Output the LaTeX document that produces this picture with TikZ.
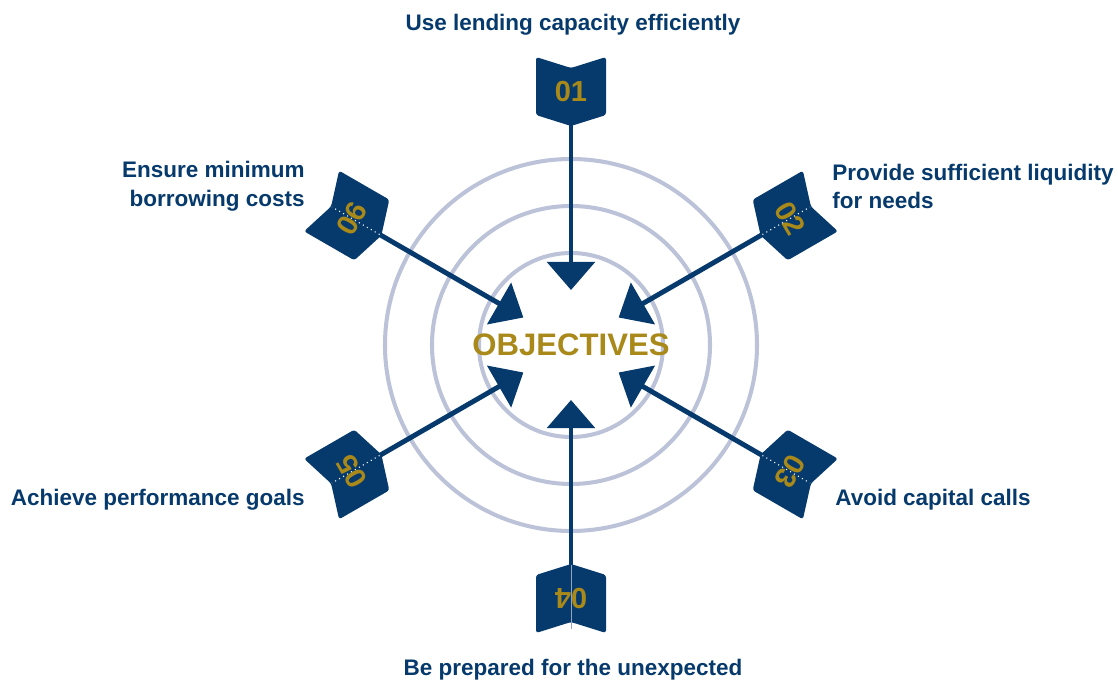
\documentclass[tikz,border=0pt]{standalone}
\usepackage{fontspec}
\setmainfont{Liberation Sans}
\usetikzlibrary{arrows.meta}
\definecolor{navy}{HTML}{073A6C}
\definecolor{gold}{HTML}{A8891A}
\definecolor{ring}{HTML}{BCC3D9}
\begin{document}
\begin{tikzpicture}[x=0.02cm,y=0.02cm,
  ringline/.style={draw=ring, line width=2.3pt},
  shaft/.style={draw=navy, line width=2.8pt, -{Triangle[length=16pt,width=27pt]}},
  fletch/.style={fill=navy, rounded corners=1.5pt},
  num/.style={text=gold, font=\fontsize{16.5pt}{18pt}\selectfont\bfseries, inner sep=0pt},
  lbl/.style={text=navy, font=\fontsize{12.8pt}{16.4pt}\selectfont\bfseries, inner sep=0pt},
  seam/.style={draw=white, line width=0.6pt, dotted},
  seamsolid/.style={draw=navy!45!white, line width=0.5pt}]
\useasboundingbox (-571,-335) rectangle (547,345);
\draw[ringline] (0,0) circle (92);
\draw[ringline] (0,0) circle (139);
\draw[ringline] (0,0) circle (186);
\foreach \i/\a in {1/90,2/30,3/-30,4/-90,5/210,6/150} {
  \coordinate (f\i) at (\a:253);
  \coordinate (t\i) at (\a:55);
  \draw[shaft] (f\i) -- (t\i);
  \fill[fletch, shift={(f\i)}, rotate=\a-90] (-35,35) -- (0,24) -- (35,35) -- (35,-23) -- (0,-34) -- (-35,-23) -- cycle;
  \node[num, rotate=\a-90] (n\i) at (f\i) {0\i};
}
\foreach \a in {30,-30,210,150} {
  \draw[seam] (\a:221) -- (\a:276);
}
\draw[seamsolid] (-90:220) -- (-90:284);
\node[text=gold, font=\fontsize{17.7pt}{20pt}\selectfont\bfseries, inner sep=0pt] (obj) at (0,0) {OBJECTIVES};
\node[lbl] (l1) at (2,320) {Use lending capacity efficiently};
\node[lbl, anchor=west, align=left] (l2) at (261,158.5) {Provide sufficient liquidity\\for needs};
\node[lbl, anchor=west] (l3) at (264,-154.5) {Avoid capital calls};
\node[lbl] (l4) at (2,-324.5) {Be prepared for the unexpected};
\node[lbl, anchor=east] (l5) at (-266,-154.5) {Achieve performance goals};
\node[lbl, anchor=east, align=right] (l6) at (-266,158.5) {Ensure minimum\\borrowing costs};
\end{tikzpicture}
\end{document}
